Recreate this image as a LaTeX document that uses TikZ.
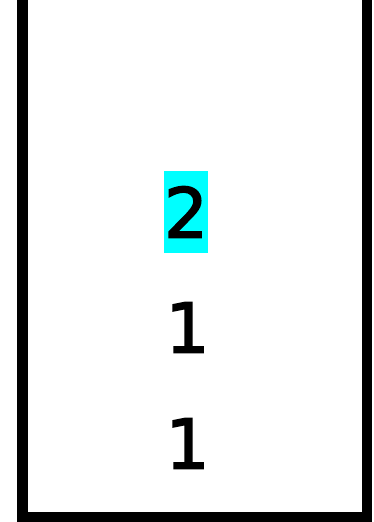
\documentclass[tikz,border=0pt]{standalone}
\usepackage{fontspec}
\setmainfont{DejaVu Sans}
\newfontfamily\numfont[FakeBold=2.2]{DejaVu Sans}
\definecolor{hilite}{RGB}{0,255,255}
\begin{document}
\begin{tikzpicture}[x=1pt,y=1pt,
  num/.style={inner sep=0pt,minimum height=82pt,font=\numfont\fontsize{69}{82}\selectfont},
  hibox/.style={fill=hilite}]
\useasboundingbox(0,0)rectangle(374,522);
\draw[line width=10.5pt,miter limit=10](22.5,530)--(22.5,4.5)--(367,4.5)--(367,530);
\node[num,hibox](top)at(186,310){\makebox[44pt]{2}};
\node[num](mid)at(187.5,194.5){\makebox[44pt]{1}};
\node[num](low)at(187.5,78.5){\makebox[44pt]{1}};
\end{tikzpicture}
\end{document}
